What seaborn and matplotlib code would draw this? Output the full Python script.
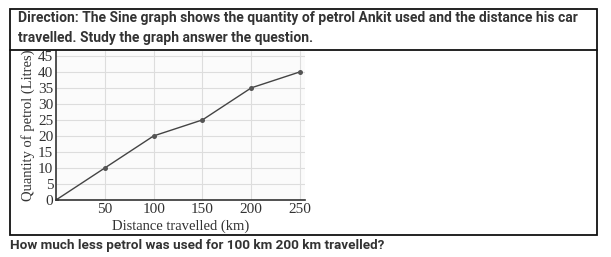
import matplotlib
matplotlib.use("Agg")
import matplotlib.pyplot as plt
import seaborn as sns
import pandas as pd
from matplotlib.patches import Rectangle
from matplotlib.lines import Line2D

distance_km = [0, 50, 100, 150, 200, 250]
petrol_litres = [0, 10, 20, 25, 35, 40]
x_ticks = [50, 100, 150, 200, 250]
y_ticks = [0, 5, 10, 15, 20, 25, 30, 35, 40, 45]

header_1 = "Direction: The Sine graph shows the quantity of petrol Ankit used and the distance his car"
header_2 = "travelled. Study the graph answer the question."
question = "How much less petrol was used for 100 km 200 km travelled?"
x_label = "Distance travelled (km)"
y_label = "Quantity of petrol (Litres)"

sns.set_theme(style="white")
plt.rcParams['font.family'] = ['Liberation Serif', 'DejaVu Serif']

W, H = 611, 257
fig = plt.figure(figsize=(W / 100, H / 100), dpi=100)
fig.patch.set_facecolor("white")

def fx(px):
    return px / W

def fy(py):
    return 1 - py / H

# outer box and header divider
fig.add_artist(Rectangle((fx(10), fy(235)), fx(597) - fx(10), fy(9) - fy(235),
                         transform=fig.transFigure, fill=False, edgecolor="#111111", lw=1.3))
fig.add_artist(Line2D([fx(10), fx(597)], [fy(50), fy(50)], transform=fig.transFigure,
                      color="#111111", lw=1.3))

fig.text(fx(18), fy(18), header_1, ha="left", va="center", fontsize=10.0,
         family="Roboto", fontweight="bold", color="#333333")
fig.text(fx(18), fy(38), header_2, ha="left", va="center", fontsize=10.0,
         family="Roboto", fontweight="bold", color="#333333")
fig.text(fx(10), fy(245), question, ha="left", va="center", fontsize=9.7,
         family="Roboto", fontweight="bold", color="#333333")

ax = fig.add_axes([fx(56), fy(200), fx(305) - fx(56), fy(51) - fy(200)])
ax.set_facecolor("#fbfbfb")

df = pd.DataFrame({"distance": distance_km, "petrol": petrol_litres})
sns.lineplot(data=df, x="distance", y="petrol", ax=ax, color="#444444", lw=1.0,
             marker="o", markersize=3.6, markeredgewidth=0, markerfacecolor="#555555")

ax.set_xlim(0, 255)
ax.set_ylim(0, 46.5)
ax.set_xticks(x_ticks)
ax.set_yticks(y_ticks)
ax.tick_params(axis="both", length=0, labelsize=11, colors="#333333", pad=2)
for lab in ax.get_xticklabels() + ax.get_yticklabels():
    lab.set_color("#333333")
ax.grid(True, color="#dddddd", lw=0.8)
for s in ["top", "right"]:
    ax.spines[s].set_visible(False)
for s in ["left", "bottom"]:
    ax.spines[s].set_color("#333333")
    ax.spines[s].set_linewidth(1.2)
ax.set_xlabel(x_label, fontsize=10.5, color="#333333", labelpad=3)
ax.set_ylabel(y_label, fontsize=10.5, color="#333333", labelpad=2)

fig.savefig("out.png", dpi=100)
